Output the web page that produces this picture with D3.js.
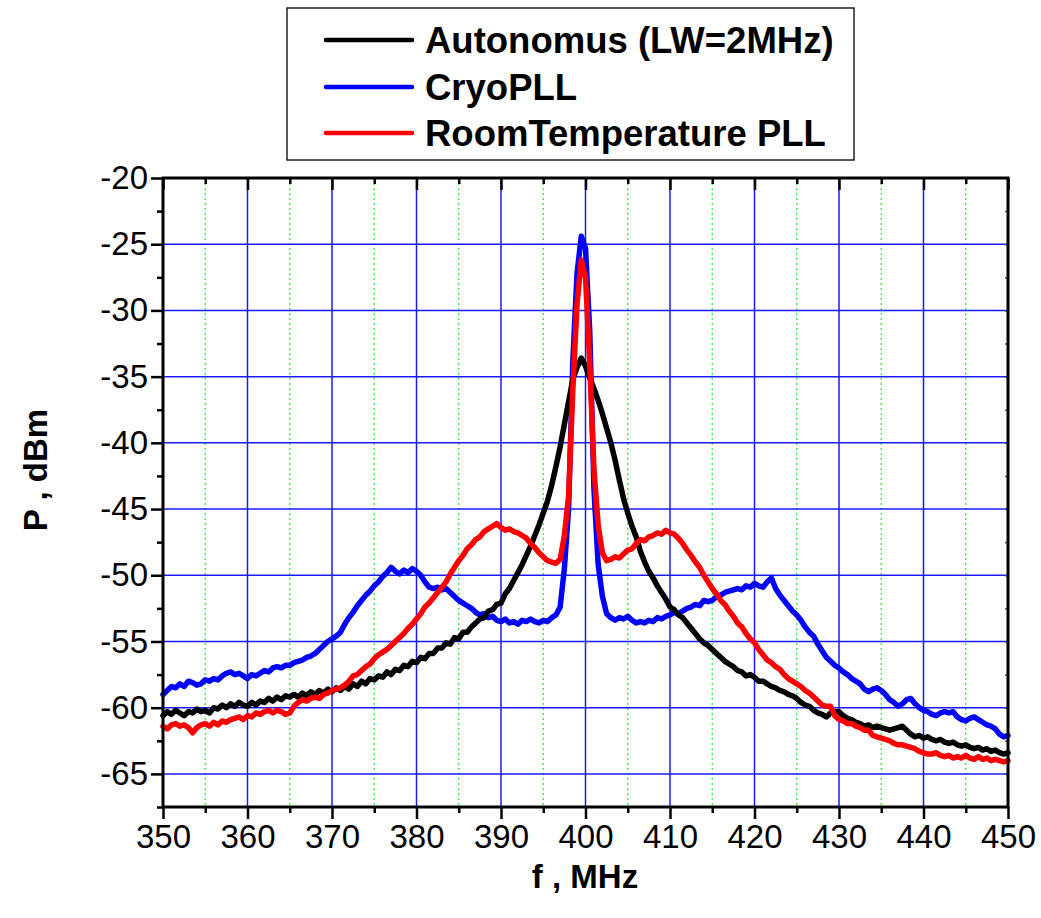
<!DOCTYPE html>
<html>
<head>
<meta charset="utf-8">
<script src="https://cdn.jsdelivr.net/npm/d3@7"></script>
<style>
  html, body { margin: 0; padding: 0; background: #fff; }
  svg { display: block; }
  text { font-family: "Liberation Sans", Arial, sans-serif; }
</style>
</head>
<body>
<svg id="chart" width="1041" height="918"></svg>
<script>
// ---------------- DATA ----------------
const freqMHz = [
350,350.5,351,351.5,352,352.5,353,353.5,354,354.5,
355,355.5,356,356.5,357,357.5,358,358.5,359,359.5,
360,360.5,361,361.5,362,362.5,363,363.5,364,364.5,
365,365.5,366,366.5,367,367.5,368,368.5,369,369.5,
370,370.5,371,371.5,372,372.5,373,373.5,374,374.5,
375,375.5,376,376.5,377,377.5,378,378.5,379,379.5,
380,380.5,381,381.5,382,382.5,383,383.5,384,384.5,
385,385.5,386,386.5,387,387.5,388,388.5,389,389.5,
390,390.5,391,391.5,392,392.5,393,393.5,394,394.5,
395,395.5,396,396.5,397,397.5,398,398.5,399,399.5,
400,400.5,401,401.5,402,402.5,403,403.5,404,404.5,
405,405.5,406,406.5,407,407.5,408,408.5,409,409.5,
410,410.5,411,411.5,412,412.5,413,413.5,414,414.5,
415,415.5,416,416.5,417,417.5,418,418.5,419,419.5,
420,420.5,421,421.5,422,422.5,423,423.5,424,424.5,
425,425.5,426,426.5,427,427.5,428,428.5,429,429.5,
430,430.5,431,431.5,432,432.5,433,433.5,434,434.5,
435,435.5,436,436.5,437,437.5,438,438.5,439,439.5,
440,440.5,441,441.5,442,442.5,443,443.5,444,444.5,
445,445.5,446,446.5,447,447.5,448,448.5,449,449.5,
450];

const autonomus = [
-60.6,-60.3,-60.5,-60.2,-60.4,-60.6,-60.3,-60.4,-60.1,-60.3,
-60.2,-60.4,-60.0,-60.1,-59.8,-60.0,-59.7,-59.9,-59.6,-59.8,
-59.9,-59.6,-59.8,-59.5,-59.6,-59.3,-59.5,-59.2,-59.4,-59.1,
-59.2,-59.0,-59.2,-58.9,-59.1,-58.8,-59.0,-58.7,-58.9,-58.6,
-58.8,-58.5,-58.7,-58.4,-58.6,-58.2,-58.4,-58.0,-58.2,-57.8,
-57.9,-57.6,-57.7,-57.3,-57.5,-57.1,-57.2,-56.8,-56.9,-56.5,
-56.6,-56.2,-56.3,-55.9,-55.9,-55.5,-55.5,-55.1,-55.2,-54.7,
-54.8,-54.3,-54.3,-53.9,-53.6,-53.3,-53.2,-52.7,-52.6,-52.2,
-52.1,-51.4,-51.0,-50.4,-49.8,-49.2,-48.5,-47.8,-47.0,-46.2,
-45.3,-44.4,-43.2,-41.8,-40.3,-38.6,-36.9,-35.2,-34.3,-33.6,
-34.2,-35.1,-35.9,-36.8,-37.8,-38.9,-40.0,-41.3,-42.8,-44.2,
-45.3,-46.3,-47.1,-48.2,-49.0,-49.7,-50.2,-50.8,-51.3,-51.8,
-52.4,-52.6,-53.0,-53.2,-53.6,-54.0,-54.4,-54.8,-55.1,-55.3,
-55.6,-55.9,-56.2,-56.5,-56.7,-56.9,-57.2,-57.3,-57.6,-57.5,
-57.7,-58.0,-58.0,-58.2,-58.4,-58.5,-58.7,-58.8,-59.0,-59.1,
-59.3,-59.6,-59.8,-59.9,-60.2,-60.4,-60.5,-60.7,-60.4,-60.3,
-60.3,-60.6,-60.8,-60.9,-61.1,-61.2,-61.4,-61.3,-61.5,-61.4,
-61.5,-61.6,-61.7,-61.6,-61.5,-61.4,-61.7,-62.0,-62.2,-62.1,
-62.3,-62.2,-62.4,-62.5,-62.4,-62.6,-62.7,-62.6,-62.8,-62.9,
-62.8,-63.0,-63.1,-63.0,-63.2,-63.1,-63.3,-63.2,-63.4,-63.5,
-63.4];

const cryoPLL = [
-59.0,-58.7,-58.4,-58.5,-58.2,-58.4,-58.0,-58.1,-58.3,-58.2,
-57.9,-58.0,-57.8,-57.9,-57.6,-57.4,-57.3,-57.5,-57.4,-57.6,
-57.8,-57.5,-57.6,-57.4,-57.2,-57.3,-57.0,-56.9,-57.0,-56.8,
-56.8,-56.6,-56.5,-56.4,-56.2,-56.1,-55.9,-55.6,-55.3,-55.0,
-54.8,-54.6,-54.3,-53.7,-53.2,-52.8,-52.3,-51.9,-51.5,-51.2,
-50.8,-50.5,-50.1,-49.8,-49.4,-49.7,-49.9,-49.6,-49.8,-49.5,
-49.7,-50.0,-50.5,-50.9,-51.0,-50.9,-51.1,-51.0,-51.3,-51.6,
-51.9,-52.1,-52.3,-52.5,-52.8,-53.0,-52.9,-53.2,-53.1,-53.4,
-53.5,-53.3,-53.6,-53.5,-53.7,-53.4,-53.5,-53.3,-53.5,-53.6,
-53.4,-53.5,-53.2,-53.0,-52.4,-49.5,-45.0,-33.8,-27.2,-24.4,
-25.3,-31.5,-43.5,-49.2,-51.6,-52.9,-53.2,-53.4,-53.2,-53.3,
-53.1,-53.4,-53.6,-53.5,-53.6,-53.4,-53.5,-53.2,-53.3,-53.1,
-53.0,-52.8,-52.9,-52.7,-52.5,-52.4,-52.2,-52.3,-51.9,-52.0,
-51.9,-51.6,-51.5,-51.3,-51.2,-51.1,-51.0,-51.1,-50.8,-50.9,
-50.6,-50.8,-50.9,-50.5,-50.2,-51.0,-51.5,-51.9,-52.3,-52.7,
-53.0,-53.4,-53.9,-54.3,-54.6,-55.2,-55.7,-56.2,-56.5,-56.8,
-57.0,-57.3,-57.5,-57.8,-58.0,-58.2,-58.6,-58.8,-58.6,-58.5,
-58.7,-59.0,-59.4,-59.6,-59.9,-59.7,-59.4,-59.3,-59.7,-60.0,
-60.2,-60.3,-60.5,-60.6,-60.4,-60.3,-60.4,-60.3,-60.7,-60.9,
-61.0,-60.8,-60.7,-60.9,-61.1,-61.3,-61.4,-61.6,-62.0,-62.2,
-62.1];

const roomTempPLL = [
-61.4,-61.6,-61.3,-61.2,-61.4,-61.3,-61.5,-61.9,-61.5,-61.3,
-61.2,-61.4,-61.1,-61.3,-61.0,-61.1,-60.9,-60.8,-60.7,-60.9,
-60.6,-60.7,-60.4,-60.5,-60.3,-60.2,-60.4,-60.2,-60.3,-60.5,
-60.4,-59.9,-59.6,-59.4,-59.5,-59.3,-59.2,-59.3,-59.0,-58.9,
-58.7,-58.6,-58.5,-58.3,-58.0,-57.6,-57.5,-57.2,-56.9,-56.7,
-56.3,-56.0,-55.8,-55.6,-55.3,-55.0,-54.7,-54.4,-54.0,-53.7,
-53.3,-52.9,-52.4,-52.1,-51.7,-51.3,-50.9,-50.5,-49.9,-49.4,
-48.9,-48.5,-48.0,-47.7,-47.3,-47.1,-46.7,-46.5,-46.3,-46.1,
-46.4,-46.6,-46.5,-46.7,-46.8,-47.0,-47.2,-47.6,-47.9,-48.3,
-48.6,-48.9,-49.0,-49.1,-48.8,-47.0,-44.0,-36.0,-29.5,-26.2,
-27.5,-34.0,-42.0,-46.2,-48.3,-48.9,-48.8,-48.6,-48.7,-48.4,
-48.1,-48.0,-47.6,-47.3,-47.4,-47.1,-47.0,-46.8,-46.9,-46.6,
-46.8,-46.9,-47.2,-47.6,-48.1,-48.5,-49.0,-49.4,-50.0,-50.5,
-51.0,-51.4,-51.9,-52.2,-52.7,-53.1,-53.6,-53.9,-54.4,-54.8,
-55.1,-55.6,-56.0,-56.4,-56.6,-56.9,-57.1,-57.5,-57.8,-58.0,
-58.2,-58.4,-58.7,-58.9,-59.2,-59.5,-59.8,-59.9,-59.9,-60.6,
-60.9,-61.0,-61.2,-61.2,-61.4,-61.5,-61.7,-61.7,-62.1,-62.2,
-62.3,-62.4,-62.5,-62.7,-62.8,-62.8,-62.9,-63.0,-63.1,-63.3,
-63.4,-63.5,-63.5,-63.4,-63.6,-63.7,-63.6,-63.8,-63.7,-63.8,
-63.6,-63.8,-63.9,-63.7,-63.9,-63.8,-64.0,-63.9,-64.0,-64.1,
-64.0];

const seriesNames = ["Autonomus (LW=2MHz)", "CryoPLL", "RoomTemperature PLL"];
const seriesColors = ["#000000", "#0000ff", "#ff0000"];
const xTickLabels = [350, 360, 370, 380, 390, 400, 410, 420, 430, 440, 450];
const yTickLabels = [-20, -25, -30, -35, -40, -45, -50, -55, -60, -65];
const xTitle = "f , MHz";
const yTitle = "P , dBm";

// ---------------- LAYOUT ----------------
const svg = d3.select("#chart");
const L = 163, R = 1008, T = 178, B = 807;
const x = d3.scaleLinear().domain([350, 450]).range([L, R]);
const y = d3.scaleLinear().domain([-67.5, -20]).range([B, T]);

const xMinor = d3.range(355, 450, 10);
const yMinor = d3.range(-22.5, -67.6, -5);
const plain = d => String(d);

// grid: green dotted minor verticals
svg.append("g").selectAll("line").data(xMinor).join("line")
  .attr("x1", d => x(d)).attr("x2", d => x(d))
  .attr("y1", T).attr("y2", B)
  .attr("stroke", "#33ee33").attr("stroke-width", 1.3)
  .attr("stroke-dasharray", "2,3");

// blue major grid
svg.append("g").selectAll("line").data(xTickLabels.filter(d => d > 350 && d < 450)).join("line")
  .attr("x1", d => x(d)).attr("x2", d => x(d))
  .attr("y1", T).attr("y2", B)
  .attr("stroke", "#1a1aff").attr("stroke-width", 1.5);
svg.append("g").selectAll("line").data(yTickLabels.filter(d => d < -20)).join("line")
  .attr("x1", L).attr("x2", R)
  .attr("y1", d => y(d)).attr("y2", d => y(d))
  .attr("stroke", "#1a1aff").attr("stroke-width", 1.5);

// ---------------- SERIES ----------------
const line = d3.line().x((d, i) => x(freqMHz[i])).y(d => y(d));
const plotG = svg.append("g");
const drawOrder = [1, 0, 2];
const allSeries = [autonomus, cryoPLL, roomTempPLL];
drawOrder.forEach(k => {
  plotG.append("path")
    .datum(allSeries[k])
    .attr("d", line)
    .attr("fill", "none")
    .attr("stroke", seriesColors[k])
    .attr("stroke-width", 5.5)
    .attr("stroke-linejoin", "round")
    .attr("stroke-linecap", "round");
});

// ---------------- AXES ----------------
const axG = svg.append("g");
const FS = 33;
// bottom axis (outward ticks)
const gx = axG.append("g").attr("transform", `translate(0,${B})`)
  .call(d3.axisBottom(x).tickValues(xTickLabels).tickSize(12).tickPadding(6).tickFormat(plain));
gx.select(".domain").remove();
gx.selectAll(".tick line").attr("stroke", "#000").attr("stroke-width", 2.5);
gx.selectAll(".tick text").attr("font-size", FS).attr("fill", "#000")
  .attr("font-family", "Liberation Sans, Arial, sans-serif");
const gxm = axG.append("g").attr("transform", `translate(0,${B})`)
  .call(d3.axisBottom(x).tickValues(xMinor).tickSize(6).tickFormat(""));
gxm.select(".domain").remove();
gxm.selectAll(".tick line").attr("stroke", "#000").attr("stroke-width", 2.5);

// top axis (inward ticks)
const gt = axG.append("g").attr("transform", `translate(0,${T})`)
  .call(d3.axisBottom(x).tickValues(xTickLabels).tickSize(12).tickFormat(""));
gt.select(".domain").remove();
gt.selectAll(".tick line").attr("stroke", "#000").attr("stroke-width", 2.5);
const gtm = axG.append("g").attr("transform", `translate(0,${T})`)
  .call(d3.axisBottom(x).tickValues(xMinor).tickSize(6).tickFormat(""));
gtm.select(".domain").remove();
gtm.selectAll(".tick line").attr("stroke", "#000").attr("stroke-width", 2.5);

// left axis (outward ticks)
const gy = axG.append("g").attr("transform", `translate(${L},0)`)
  .call(d3.axisLeft(y).tickValues(yTickLabels).tickSize(12).tickPadding(3).tickFormat(plain));
gy.select(".domain").remove();
gy.selectAll(".tick line").attr("stroke", "#000").attr("stroke-width", 2.5);
gy.selectAll(".tick text").attr("font-size", FS).attr("fill", "#000")
  .attr("font-family", "Liberation Sans, Arial, sans-serif");
const gym = axG.append("g").attr("transform", `translate(${L},0)`)
  .call(d3.axisLeft(y).tickValues(yMinor).tickSize(6).tickFormat(""));
gym.select(".domain").remove();
gym.selectAll(".tick line").attr("stroke", "#000").attr("stroke-width", 2.5);

// right axis (tiny inward ticks)
const gr = axG.append("g").attr("transform", `translate(${R},0)`)
  .call(d3.axisRight(y).tickValues(yTickLabels.concat(yMinor)).tickSize(-3).tickFormat(""));
gr.select(".domain").remove();
gr.selectAll(".tick line").attr("stroke", "#555").attr("stroke-width", 1.5);

// frame
axG.append("rect").attr("x", L).attr("y", T).attr("width", R - L).attr("height", B - T)
  .attr("fill", "none").attr("stroke", "#000").attr("stroke-width", 3);

// axis titles
svg.append("text").attr("x", 585).attr("y", 888)
  .attr("text-anchor", "middle").attr("font-size", FS).attr("font-weight", "bold")
  .text(xTitle);
svg.append("text").attr("transform", `translate(47,${470}) rotate(-90)`)
  .attr("text-anchor", "middle").attr("font-size", FS).attr("font-weight", "bold")
  .text(yTitle);

// ---------------- LEGEND ----------------
const lg = svg.append("g");
lg.append("rect").attr("x", 287).attr("y", 8).attr("width", 567).attr("height", 152)
  .attr("fill", "#fff").attr("stroke", "#222").attr("stroke-width", 1.5);
const legendRowY = [40, 87, 133];
seriesNames.forEach((name, i) => {
  lg.append("line").attr("x1", 326).attr("x2", 412)
    .attr("y1", legendRowY[i]).attr("y2", legendRowY[i])
    .attr("stroke", seriesColors[i]).attr("stroke-width", 4.5).attr("stroke-linecap", "round");
  lg.append("text").attr("x", 425).attr("y", legendRowY[i] + 13)
    .attr("font-size", 36.5).attr("font-weight", "bold").text(name);
});
</script>
</body>
</html>
